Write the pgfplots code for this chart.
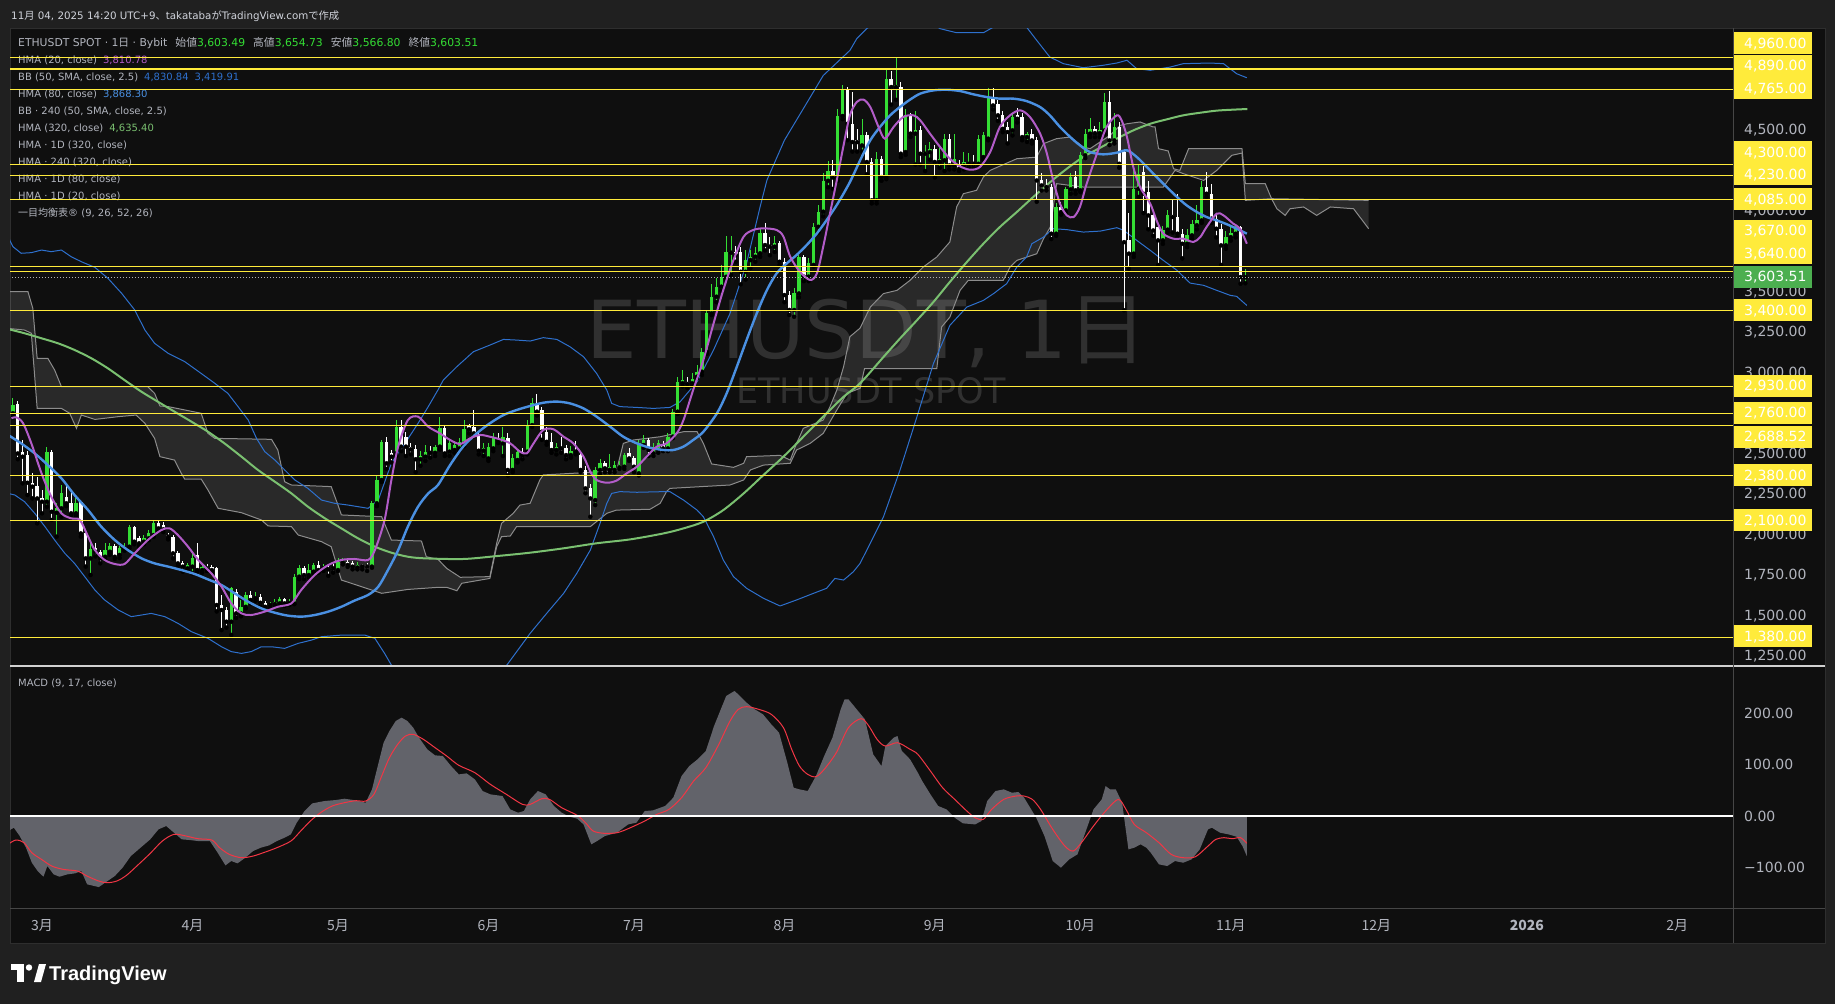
\documentclass[border=0pt]{standalone}
\usepackage{pgfplots}
\pgfplotsset{compat=1.18}
\usepackage{pgfplotstable}
\usepackage{fontspec}
\setmainfont{DejaVu Sans}
\newfontfamily\jp{Noto Sans CJK JP}
\newfontfamily\tvfont{Liberation Sans}

\definecolor{outerbg}{RGB}{32,32,32}
\definecolor{panebg}{RGB}{15,15,15}
\definecolor{framec}{RGB}{46,46,46}
\definecolor{sepc}{RGB}{70,70,70}
\definecolor{txt}{RGB}{178,181,190}
\definecolor{txtlight}{RGB}{209,212,220}
\definecolor{upc}{RGB}{52,222,52}
\definecolor{hmaA}{RGB}{178,92,200}
\definecolor{hmaB}{RGB}{74,144,226}
\definecolor{bbc}{RGB}{46,112,205}
\definecolor{hmaC}{RGB}{122,192,112}
\definecolor{cloudln}{RGB}{140,140,140}
\definecolor{lvl}{RGB}{255,235,59}
\definecolor{lastc}{RGB}{76,175,80}
\definecolor{macdc}{RGB}{98,99,106}
\definecolor{sigc}{RGB}{242,54,69}

% daily candles: d = days since 1 March 2025
\pgfplotstableread{
d O H L C
-6 2764 2856 2740 2815
-5 2821 2840 2480 2516
-4 2527 2599 2331 2496
-3 2506 2530 2259 2335
-2 2335 2393 2238 2311
-1 2315 2372 2084 2238
0 2238 2290 2146 2218
1 2218 2558 2187 2527
2 2527 2540 2105 2156
3 2150 2208 2002 2177
4 2177 2321 2125 2269
5 2249 2321 2190 2208
6 2212 2269 2136 2146
7 2146 2238 2130 2212
8 2218 2230 2002 2022
9 2022 2030 1817 1868
10 1868 1981 1765 1923
11 1930 1960 1880 1909
12 1909 1920 1837 1868
13 1878 1960 1860 1919
14 1909 1960 1890 1944
15 1944 1955 1865 1878
16 1889 1945 1870 1930
17 1930 1960 1915 1940
18 1940 2074 1930 2064
19 2064 2070 1955 1971
20 1992 2005 1940 1961
21 1971 2010 1955 1992
22 1992 2040 1980 2022
23 2012 2105 2000 2084
24 2084 2105 2040 2053
25 2074 2090 2030 2047
26 2012 2025 1985 2002
27 2002 2015 1868 1899
28 1903 1915 1820 1837
29 1837 1850 1786 1817
30 1806 1840 1790 1827
31 1817 1909 1775 1868
32 1889 1960 1786 1796
33 1796 1830 1780 1817
34 1817 1830 1790 1806
35 1817 1825 1780 1796
36 1806 1815 1540 1580
37 1580 1640 1425 1549
38 1549 1570 1440 1477
39 1477 1690 1395 1683
40 1662 1680 1500 1528
41 1528 1610 1510 1569
42 1569 1660 1560 1642
43 1642 1665 1590 1611
44 1621 1660 1605 1631
45 1631 1645 1570 1594
46 1590 1605 1560 1569
47 1580 1600 1565 1586
48 1586 1620 1575 1600
49 1590 1630 1580 1615
50 1615 1625 1575 1590
51 1590 1615 1580 1600
52 1590 1770 1585 1755
53 1755 1825 1740 1806
54 1806 1820 1740 1765
55 1765 1830 1750 1796
56 1786 1840 1775 1827
57 1827 1850 1780 1796
58 1806 1835 1790 1817
59 1806 1830 1760 1800
60 1811 1830 1780 1806
61 1796 1870 1790 1847
62 1842 1870 1830 1853
63 1847 1865 1815 1827
64 1837 1850 1800 1817
65 1811 1845 1800 1827
66 1821 1835 1800 1817
67 1827 1840 1790 1817
68 1817 2220 1810 2208
69 2208 2380 2190 2352
70 2352 2600 2340 2588
71 2588 2620 2420 2455
72 2516 2540 2460 2496
73 2516 2720 2500 2681
74 2681 2720 2530 2558
75 2620 2650 2500 2558
76 2558 2580 2510 2541
77 2541 2570 2400 2480
78 2480 2530 2440 2500
79 2496 2570 2470 2527
80 2527 2560 2490 2520
81 2520 2570 2500 2558
82 2558 2740 2540 2671
83 2671 2690 2500 2516
84 2527 2600 2500 2578
85 2537 2590 2520 2568
86 2547 2610 2530 2588
87 2578 2720 2560 2665
88 2685 2700 2640 2665
89 2681 2784 2620 2640
90 2630 2650 2510 2533
91 2533 2580 2500 2547
92 2485 2580 2470 2558
93 2547 2640 2530 2609
94 2609 2640 2580 2599
95 2578 2680 2500 2620
96 2609 2640 2380 2414
97 2414 2510 2400 2485
98 2475 2540 2460 2527
99 2527 2550 2480 2506
100 2527 2720 2510 2691
101 2691 2860 2680 2825
102 2821 2880 2750 2774
103 2784 2800 2600 2650
104 2650 2680 2570 2588
105 2588 2640 2520 2537
106 2537 2580 2510 2558
107 2558 2620 2520 2547
108 2547 2570 2480 2506
109 2506 2560 2490 2533
110 2537 2590 2510 2527
111 2506 2530 2400 2414
112 2414 2440 2270 2300
113 2300 2330 2125 2238
114 2228 2430 2197 2414
115 2414 2480 2390 2455
116 2455 2470 2400 2424
117 2414 2510 2400 2434
118 2414 2470 2400 2444
119 2430 2470 2420 2444
120 2434 2520 2420 2506
121 2516 2550 2470 2485
122 2485 2500 2400 2434
123 2393 2600 2380 2578
124 2568 2630 2550 2599
125 2599 2610 2500 2537
126 2516 2580 2500 2558
127 2537 2600 2520 2578
128 2568 2590 2530 2547
129 2547 2640 2530 2620
130 2620 2790 2610 2774
131 2774 2990 2760 2959
132 2949 3030 2930 2969
133 2959 2990 2920 2945
134 2949 3010 2930 2973
135 2990 3060 2980 3021
136 3021 3170 3000 3144
137 3144 3400 3130 3381
138 3381 3560 3370 3484
139 3484 3600 3450 3546
140 3546 3680 3520 3607
141 3607 3860 3590 3762
142 3756 3860 3620 3768
143 3762 3800 3700 3741
144 3762 3790 3560 3638
145 3638 3770 3590 3710
146 3710 3770 3660 3731
147 3731 3790 3700 3752
148 3752 3900 3730 3875
149 3875 3940 3770 3803
150 3803 3850 3740 3793
151 3793 3860 3760 3813
152 3813 3830 3680 3700
153 3700 3720 3450 3494
154 3494 3520 3371 3402
155 3402 3540 3360 3504
156 3504 3740 3480 3731
157 3731 3740 3580 3608
158 3608 3720 3580 3690
159 3680 3940 3670 3916
160 3916 4050 3880 4009
161 4009 4250 3980 4200
162 4200 4320 4160 4260
163 4260 4330 4150 4220
164 4220 4640 4200 4600
165 4600 4790 4580 4760
166 4760 4780 4450 4552
167 4552 4750 4380 4439
168 4449 4520 4380 4439
169 4418 4580 4380 4480
170 4480 4500 4240 4316
171 4316 4340 4060 4079
172 4079 4380 4060 4336
173 4336 4350 4200 4223
174 4223 4890 4210 4830
175 4830 4880 4670 4779
176 4779 4964 4700 4789
177 4779 4810 4346 4367
178 4377 4640 4360 4604
179 4604 4620 4470 4491
180 4491 4630 4300 4511
181 4511 4540 4300 4367
182 4367 4420 4260 4377
183 4377 4440 4330 4398
184 4398 4420 4220 4316
185 4316 4400 4280 4336
186 4326 4490 4260 4460
187 4460 4490 4270 4295
188 4295 4490 4270 4336
189 4305 4330 4260 4274
190 4295 4380 4270 4316
191 4305 4370 4280 4316
192 4316 4360 4280 4305
193 4305 4480 4290 4460
194 4346 4500 4330 4480
195 4460 4770 4450 4717
196 4717 4770 4640 4665
197 4675 4700 4570 4604
198 4604 4630 4500 4521
199 4532 4560 4430 4501
200 4511 4620 4480 4593
201 4604 4650 4560 4583
202 4593 4620 4450 4470
203 4470 4500 4440 4486
204 4486 4520 4430 4449
205 4449 4470 4070 4202
206 4202 4250 4140 4171
207 4171 4210 4140 4161
208 4161 4180 3840 3873
209 3873 4060 3860 4038
210 4038 4070 3990 4007
211 4017 4160 4000 4147
212 4147 4250 4120 4223
213 4223 4260 4120 4141
214 4141 4380 4130 4357
215 4357 4520 4340 4491
216 4491 4590 4470 4521
217 4521 4540 4470 4494
218 4494 4560 4470 4511
219 4511 4740 4490 4686
220 4686 4755 4420 4449
221 4449 4620 4430 4532
222 4532 4560 4280 4305
223 4377 4390 3400 3821
224 3831 4000 3657 3750
225 3750 4280 3730 4151
226 4151 4300 4100 4244
227 4254 4290 4000 4120
228 4130 4200 3900 3986
229 3986 4020 3860 3893
230 3914 3940 3680 3832
231 3832 3920 3810 3898
232 3898 4020 3880 3986
233 3986 4090 3880 3976
234 3976 4120 3850 3873
235 3873 3900 3720 3811
236 3811 3900 3790 3863
237 3863 3960 3840 3935
238 3925 4050 3900 3960
239 3955 4200 3940 4161
240 4161 4255 4100 4120
241 4120 4180 3940 3966
242 3966 3990 3850 3904
243 3904 3930 3680 3801
244 3801 3890 3780 3852
245 3852 3920 3830 3877
246 3873 3930 3850 3914
247 3914 3920 3564 3605
248 3603.49 3654.73 3566.80 3603.51
}\candles

\newcommand{\lvlbox}[3][lvl]{%
  \node[anchor=west, fill=#1, minimum width=78pt, minimum height=22pt, inner sep=0pt] at (1734pt,-#2pt) {};
  \node[anchor=base west, inner sep=0pt, font=\fontsize{14}{16}\selectfont, yshift=-5pt,
        text={\ifx#1lvl black\else white\fi}] at (1744pt,-#2pt) {#3};}

\begin{document}
\begin{tikzpicture}
% canvas and panes
\fill[outerbg] (0pt,0pt) rectangle (1835pt,-1004pt);
\fill[panebg] (10pt,-28pt) rectangle (1825pt,-943pt);
\draw[framec, line width=1pt] (10pt,-28pt) rectangle (1825pt,-943pt);

% watermark
\node[anchor=base, inner sep=0pt, text=white, text opacity=0.14, font=\fontsize{80}{90}\selectfont]
  at (867pt,-358pt) {ETHUSDT, 1{\jp 日}};
\node[anchor=base, inner sep=0pt, text=white, text opacity=0.14, font=\fontsize{35}{40}\selectfont]
  at (871pt,-403pt) {ETHUSDT SPOT};

% header
\node[anchor=base west, inner sep=0pt, text=txtlight, font=\fontsize{10.3}{12}\selectfont]
  at (11pt,-19pt) {11{\jp 月} 04, 2025 14:20 UTC+9{\jp 、}takataba{\jp が}TradingView.com{\jp で作成}};

% legend block
\begin{scope}[every node/.style={anchor=base west, inner sep=0pt, text=txt, font=\fontsize{10}{12}\selectfont}]
\node[font=\fontsize{10.8}{12}\selectfont] at (18pt,-46pt) {ETHUSDT SPOT · 1{\jp 日} · Bybit\hspace{8pt}{\jp 始値}\textcolor{upc}{3,603.49}\hspace{8pt}{\jp 高値}\textcolor{upc}{3,654.73}\hspace{8pt}{\jp 安値}\textcolor{upc}{3,566.80}\hspace{8pt}{\jp 終値}\textcolor{upc}{3,603.51}};
\node at (18pt,-63.3pt) {HMA (20, close)\hspace{6pt}\textcolor{hmaA}{3,810.78}};
\node at (18pt,-80.3pt) {BB (50, SMA, close, 2.5)\hspace{6pt}\textcolor{bbc}{4,830.84}\hspace{6pt}\textcolor{bbc}{3,419.91}};
\node at (18pt,-97.3pt) {HMA (80, close)\hspace{6pt}\textcolor{hmaB}{3,868.30}};
\node at (18pt,-114.3pt) {BB · 240 (50, SMA, close, 2.5)};
\node at (18pt,-131.3pt) {HMA (320, close)\hspace{6pt}\textcolor{hmaC}{4,635.40}};
\node at (18pt,-148.3pt) {HMA · 1D (320, close)};
\node at (18pt,-165.3pt) {HMA · 240 (320, close)};
\node at (18pt,-182.3pt) {HMA · 1D (80, close)};
\node at (18pt,-199.3pt) {HMA · 1D (20, close)};
\node at (18pt,-216.3pt) {{\jp 一目均衡表}® (9, 26, 52, 26)};
\node at (18pt,-686pt) {MACD (9, 17, close)};
\end{scope}

% ---------------- price pane ----------------
\begin{axis}[
  at={(10pt,-28pt)}, anchor=north west, scale only axis,
  width=1723pt, height=638pt,
  xmin=-6.6, xmax=348.5, ymin=1203.1, ymax=5143.3,
  clip mode=individual,
  axis line style={draw=none}, tick style={draw=none},
  xtick=\empty, scaled y ticks=false,
  ytick={1250,1500,1750,2000,2250,2500,3000,3250,3500,4000,4500},
  yticklabels={{1,250.00},{1,500.00},{1,750.00},{2,000.00},{2,250.00},{2,500.00},{3,000.00},{3,250.00},{3,500.00},{4,000.00},{4,500.00}},
  yticklabel pos=right,
  yticklabel style={font=\fontsize{14}{16}\selectfont, text=txt, anchor=west, inner sep=0pt, xshift=11pt, yshift=2pt},
]
% Ichimoku cloud: filled band (upper span forward, lower span back), then both spans
\addplot[fill=white, fill opacity=0.11, draw=none, forget plot] coordinates {
(-7.0,3515) (-2.9,3515) (-1.9,3412) (-1.0,3103) (1.2,3103) (2.6,3031) (4.0,2928) (21.8,2928) (23.2,2887) (24.3,2809) (26.0,2805) (32.8,2764) (34.2,2640) (35.6,2609) (47.3,2603) (48.6,2537) (50.0,2341) (51.4,2321) (59.6,2311) (61.0,2197) (61.7,2136) (70.0,2125) (72.0,1981) (78.2,1975) (79.2,1878) (81.6,1862)
(83.4,1806) (86.2,1751) (92.3,1755) (93.7,1961) (94.7,2084) (97.1,2146) (98.5,2197) (100.6,2208) (102.6,2352) (103.3,2383) (111.6,2397) (118.4,2409) (119.8,2578) (121.9,2599) (127.4,2619) (132.2,2650) (135.0,2650) (136.3,2578) (138.0,2451) (142.5,2430) (144.6,2455) (145.2,2496) (152.1,2504) (154.2,2475) (155.5,2578) (156.9,2671) (161.0,2722) (162.4,2805) (163.8,2907) (165.2,3052) (166.5,3237) (168.6,3290)
(170.7,3420) (173.4,3503) (176.2,3523) (178.9,3585) (181.6,3667) (184.4,3729) (187.1,3822) (188.5,4038) (189.9,4120) (192.6,4141) (194.0,4223) (195.4,4264) (200.9,4336) (205.0,4346) (206.4,4429) (209.1,4460) (211.9,4470) (214.6,4408) (216.0,4398) (220.1,4480) (222.2,4542) (223.6,4552) (226.3,4563) (229.0,4532) (229.4,4532) (230.1,4398) (232.1,4384) (233.2,4274) (234.5,4264) (236.3,4398) (247.3,4398) (248.0,4182) (252.1,4182) (253.4,4089) (273.4,4079)
(273.4,3904) (270.3,4027) (265.5,4038) (262.7,3986) (260.0,4038) (257.2,4027) (256.2,3986) (254.5,4027) (253.4,4089) (248.0,4079) (247.3,4371) (245.2,4357) (242.1,4264) (239.4,4202) (235.2,4244) (233.5,4264) (231.1,4161) (214.6,4161) (209.1,4182) (207.8,3914) (206.4,3842) (205.0,3749) (200.9,3708) (199.5,3667) (198.1,3585) (190.9,3585) (189.2,3523) (187.1,3358) (185.4,3297) (184.4,3039) (169.5,3039)
(168.6,2918) (165.9,2887) (163.8,2784) (161.0,2640) (158.3,2578) (155.5,2537) (154.2,2455) (148.7,2444) (146.0,2414) (144.6,2352) (141.8,2321) (129.4,2300) (128.7,2280) (127.4,2208) (125.3,2171) (118.4,2166) (116.4,2146) (113.0,2064) (97.8,2064) (96.5,2006) (94.7,2002) (93.7,1940) (92.3,1744) (86.5,1714) (85.5,1668) (83.4,1689)
(81.6,1689) (75.4,1676) (70.0,1652) (61.7,1734) (59.6,1940) (57.6,1971) (52.8,2012) (51.4,2064) (46.6,2068) (45.2,2105) (41.1,2150) (36.3,2177) (34.2,2290) (32.8,2358) (29.4,2358) (28.7,2393) (27.3,2475) (24.3,2496) (23.2,2609) (21.2,2702) (19.4,2753) (15.7,2743) (10.9,2726) (8.1,2753) (7.1,2671) (5.7,2764) (4.0,2794) (-1.0,2794) (-2.2,3258) (-3.6,3278) (-7.0,3288)
} -- cycle;
\addplot[cloudln, line width=1pt] coordinates {
(-7.0,3515) (-2.9,3515) (-1.9,3412) (-1.0,3103) (1.2,3103) (2.6,3031) (4.0,2928) (21.8,2928) (23.2,2887) (24.3,2809) (26.0,2805) (32.8,2764) (34.2,2640) (35.6,2609) (47.3,2603) (48.6,2537) (50.0,2341) (51.4,2321) (59.6,2311) (61.0,2197) (61.7,2136) (70.0,2125) (72.0,1981) (78.2,1975) (79.2,1878) (81.6,1862)
(83.4,1806) (86.2,1751) (92.3,1755) (93.7,1961) (94.7,2084) (97.1,2146) (98.5,2197) (100.6,2208) (102.6,2352) (103.3,2383) (111.6,2397) (118.4,2409) (119.8,2578) (121.9,2599) (127.4,2619) (132.2,2650) (135.0,2650) (136.3,2578) (138.0,2451) (142.5,2430) (144.6,2455) (145.2,2496) (152.1,2504) (154.2,2475) (155.5,2578) (156.9,2671) (161.0,2722) (162.4,2805) (163.8,2907) (165.2,3052) (166.5,3237) (168.6,3290)
(170.7,3420) (173.4,3503) (176.2,3523) (178.9,3585) (181.6,3667) (184.4,3729) (187.1,3822) (188.5,4038) (189.9,4120) (192.6,4141) (194.0,4223) (195.4,4264) (200.9,4336) (205.0,4346) (206.4,4429) (209.1,4460) (211.9,4470) (214.6,4408) (216.0,4398) (220.1,4480) (222.2,4542) (223.6,4552) (226.3,4563) (229.0,4532) (229.4,4532) (230.1,4398) (232.1,4384) (233.2,4274) (234.5,4264) (236.3,4398) (247.3,4398) (248.0,4182) (252.1,4182) (253.4,4089) (273.4,4079)
};
\addplot[cloudln, line width=1pt] coordinates {
(-7.0,3288) (-3.6,3278) (-2.2,3258) (-1.0,2794) (4.0,2794) (5.7,2764) (7.1,2671) (8.1,2753) (10.9,2726) (15.7,2743) (19.4,2753) (21.2,2702) (23.2,2609) (24.3,2496) (27.3,2475) (28.7,2393) (29.4,2358) (32.8,2358) (34.2,2290) (36.3,2177) (41.1,2150) (45.2,2105) (46.6,2068) (51.4,2064) (52.8,2012) (57.6,1971) (59.6,1940) (61.7,1734) (70.0,1652) (75.4,1676) (81.6,1689)
(83.4,1689) (85.5,1668) (86.5,1714) (92.3,1744) (93.7,1940) (94.7,2002) (96.5,2006) (97.8,2064) (113.0,2064) (116.4,2146) (118.4,2166) (125.3,2171) (127.4,2208) (128.7,2280) (129.4,2300) (141.8,2321) (144.6,2352) (146.0,2414) (148.7,2444) (154.2,2455) (155.5,2537) (158.3,2578) (161.0,2640) (163.8,2784) (165.9,2887) (168.6,2918)
(169.5,3039) (184.4,3039) (185.4,3297) (187.1,3358) (189.2,3523) (190.9,3585) (198.1,3585) (199.5,3667) (200.9,3708) (205.0,3749) (206.4,3842) (207.8,3914) (209.1,4182) (214.6,4161) (231.1,4161) (233.5,4264) (235.2,4244) (239.4,4202) (242.1,4264) (245.2,4357) (247.3,4371) (248.0,4079) (253.4,4089) (254.5,4027) (256.2,3986) (257.2,4027) (260.0,4038) (262.7,3986) (265.5,4038) (270.3,4027) (273.4,3904)
};

% Bollinger bands (50, 2.5)
\addplot[bbc, line width=1pt] coordinates {
(-7.0,3855) (-6.0,3793) (-4.3,3752) (-2.2,3756) (-0.1,3772) (1.9,3762) (4.0,3772) (6.0,3731) (8.1,3700) (10.9,3665) (13.6,3597) (16.4,3505) (19.1,3402) (21.2,3278) (23.2,3196) (26.0,3134) (29.4,3083) (32.8,3010) (35.6,2949) (38.3,2887) (40.4,2805) (42.5,2722) (44.2,2609) (45.9,2527) (48.0,2475) (50.0,2414) (52.1,2352) (54.8,2300) (57.6,2228) (60.3,2208) (63.1,2197) (67.2,2177) (69.3,2228) (72.0,2455) (74.8,2578) (77.5,2702) (79.6,2805) (81.6,2908) (82.7,2969) (85.5,3052) (88.9,3144) (92.3,3185) (95.1,3220) (97.8,3216) (100.6,3210) (103.3,3231) (106.1,3220) (108.8,3175) (111.6,3113) (114.3,3010) (116.4,2907) (117.4,2825) (119.1,2805) (122.6,2800) (126.0,2794) (129.4,2800) (131.5,2835) (135.0,2959) (138.4,3155) (141.8,3381) (145.2,3690) (148.0,4040) (149.4,4204) (153,4450) (157,4650) (161,4850) (166.5,5005) (167.9,5077) (170.0,5140) (173,5200) (178,5230) (182,5200) (185.1,5139) (188.5,5114) (194.0,5114) (196.1,5149) (199,5190) (202.9,5149) (205.0,5067) (207.7,4964) (210.5,4923) (214.6,4898) (218.7,4913) (221.5,4927) (223.6,4944) (225.6,4892) (228.4,4882) (232.5,4902) (235.2,4923) (240.7,4927) (243.5,4923) (246.2,4861) (248.3,4836)
};
\addplot[bbc, line width=1pt] coordinates {
(-7.0,2269) (-5.6,2259) (-3.6,2218) (-1.5,2146) (0.6,2064) (2.6,1981) (4.7,1899) (6.7,1837) (8.8,1755) (10.9,1672) (12.9,1611) (15.7,1549) (18.4,1508) (20.5,1518) (22.5,1528) (25.3,1508) (28.0,1467) (30.8,1415) (34.2,1374) (37.0,1322) (39.0,1292) (41.1,1281) (43.1,1292) (45.2,1322) (47.3,1322) (50.0,1312) (52.8,1343) (55.5,1363) (57.6,1384) (61.7,1394) (66.5,1394) (68.6,1374) (70.6,1281) (72.0,1209) (74,1150) (78,1080) (86,1000) (92,1080) (95.8,1209) (100.6,1405) (104.0,1528) (107.5,1652) (110.2,1775) (113.0,1919) (115.0,2084) (116.4,2208) (117.4,2269) (119.1,2280) (122.6,2276) (128.1,2280) (129.4,2280) (132.2,2228) (135.0,2166) (136.3,2125) (138.4,2002) (140.4,1858) (142.5,1755) (145.2,1683) (148.7,1621) (152.1,1574) (155.5,1611) (159.0,1652) (161.7,1683) (163.4,1744) (165.2,1734) (167.2,1785) (168.6,1837) (171,1980) (173.4,2123) (176.8,2411) (180.3,2741) (183.7,3070) (187.1,3307) (190.6,3420) (194.0,3461) (196.1,3503) (198.8,3564) (200.9,3667) (202.9,3729) (204.0,3811) (206.4,3852) (208.4,3904) (211.2,3898) (214.6,3883) (218.1,3889) (221.5,3910) (222.9,3894) (225.6,3832) (228.4,3770) (231.1,3708) (233.9,3647) (236.6,3568) (239.4,3554) (242.1,3523) (244.9,3492) (246.2,3486) (248.3,3430)
};

% HMA 320
\addplot[hmaC, line width=2pt, smooth] coordinates {
(-7.0,3284) (-3.6,3258) (-0.1,3227) (3.3,3196) (6.7,3155) (10.2,3103) (13.6,3041) (17.0,2969) (20.5,2897) (23.9,2835) (27.3,2774) (30.8,2712) (34.2,2650) (37.6,2578) (41.1,2496) (44.5,2414) (48.0,2341) (51.4,2269) (54.8,2187) (58.3,2115) (61.7,2053) (65.1,1992) (68.6,1940) (72.0,1903) (75.4,1878) (78.9,1868) (86.8,1864) (93.7,1882) (100.6,1903) (107.5,1930) (114.3,1961) (121.2,1985) (128.1,2022) (132.2,2053) (136.3,2094) (140.4,2166) (144.6,2269) (148.7,2383) (152.8,2496) (156.9,2619) (161.0,2743) (165.2,2866) (168.6,2949) (173.4,3111) (176.8,3225) (180.3,3338) (183.7,3451) (187.1,3575) (190.6,3698) (194.0,3811) (197.4,3914) (200.9,4007) (204.3,4100) (207.8,4192) (211.2,4274) (214.6,4347) (218.1,4404) (221.5,4460) (224.9,4511) (228.4,4552) (231.8,4579) (235.2,4604) (238.7,4620) (242.1,4633) (245.5,4639) (248.4,4643)
};

% candles: wicks then bodies
\addplot[only marks, mark=none, forget plot, restrict expr to domain={\thisrow{C}-\thisrow{O}}{0:100000},
  error bars/.cd, y dir=plus, y explicit, error mark=none, error bar style={line width=1pt, draw=upc}]
  table[x=d, y=L, y error plus expr={\thisrow{H}-\thisrow{L}}] {\candles};
\addplot[only marks, mark=none, forget plot, restrict expr to domain={\thisrow{C}-\thisrow{O}}{-100000:-0.001},
  error bars/.cd, y dir=plus, y explicit, error mark=none, error bar style={line width=1pt, draw=white}]
  table[x=d, y=L, y error plus expr={\thisrow{H}-\thisrow{L}}] {\candles};
\addplot[only marks, mark=none, forget plot, restrict expr to domain={\thisrow{C}-\thisrow{O}}{0:100000},
  error bars/.cd, y dir=plus, y explicit, error mark=none, error bar style={line width=3.4pt, draw=upc}]
  table[x=d, y=O, y error plus expr={\thisrow{C}-\thisrow{O}}] {\candles};
\addplot[only marks, mark=none, forget plot, restrict expr to domain={\thisrow{C}-\thisrow{O}}{-100000:-0.001},
  error bars/.cd, y dir=plus, y explicit, error mark=none, error bar style={line width=3.4pt, draw=white}]
  table[x=d, y=C, y error plus expr={\thisrow{O}-\thisrow{C}}] {\candles};

% HMA 80
\addplot[hmaB, line width=2.4pt, smooth] coordinates {
(-7.0,2630) (-4.3,2578) (-1.5,2516) (1.2,2444) (4.0,2362) (6.7,2259) (9.5,2166) (12.2,2064) (15.0,1981) (17.7,1919) (20.5,1868) (23.2,1837) (26.0,1817) (28.7,1796) (31.5,1771) (34.2,1738) (37.0,1703) (39.7,1652) (42.5,1600) (45.2,1559) (48.0,1532) (50.7,1514) (53.5,1508) (56.2,1518) (59.0,1539) (61.7,1569) (64.4,1607) (67.2,1642) (69.3,1693) (71.3,1796) (73.4,1919) (75.4,2064) (77.5,2187) (79.6,2269) (81.6,2321) (84.1,2444) (86.8,2558) (89.6,2640) (92.3,2702) (95.1,2753) (97.8,2784) (100.6,2809) (103.3,2829) (106.1,2836) (108.8,2825) (111.6,2794) (114.3,2743) (117.1,2681) (119.8,2619) (122.6,2578) (125.3,2551) (128.1,2537) (130.1,2537) (132.2,2558) (134.2,2599) (136.3,2650) (139.1,2764) (141.1,2887) (143.2,3052) (145.2,3216) (147.3,3381) (149.4,3525) (151.4,3628) (153.5,3690) (155.5,3741) (157.6,3803) (159.7,3875) (161.7,3957) (164,4060) (166.5,4192) (168.6,4326) (170.7,4450) (172.7,4532) (174.8,4604) (176.8,4655) (178.9,4701) (181.0,4738) (183.7,4758) (186.5,4762) (189.2,4754) (191.9,4734) (194.7,4717) (197.4,4707) (200.2,4707) (202.9,4692) (205.7,4655) (207.7,4604) (209.8,4532) (211.9,4470) (213.9,4419) (216.0,4377) (218.7,4363) (221.5,4373) (223.6,4388) (225.6,4347) (227.7,4285) (229.7,4223) (231.8,4161) (233.9,4100) (235.9,4048) (238.0,4007) (240.0,3976) (242.1,3955) (244.2,3931) (246.2,3904) (248.3,3873)
};

% HMA 20
\addplot[hmaA, line width=2pt, smooth] coordinates {
(-6.3,2733) (-5.3,2739) (-3.9,2702) (-2.2,2578) (-0.1,2393) (1.9,2249) (4.0,2146) (6.0,2115) (7.8,2105) (9.5,2002) (10.9,1919) (12.9,1858) (15.0,1833) (17.0,1833) (19.1,1899) (21.8,1981) (24.6,2043) (26.3,2053) (28.0,2012) (30.1,1940) (32.2,1858) (34.9,1775) (37.0,1693) (39.0,1590) (41.1,1528) (43.1,1518) (45.9,1539) (48.6,1569) (51.4,1590) (53.4,1672) (56.2,1765) (59.0,1827) (61.7,1858) (64.4,1864) (67.2,1858) (68.6,1919) (70.6,2105) (72.0,2352) (73.4,2558) (75.4,2722) (77.5,2743) (79.6,2681) (82.0,2640) (84.1,2599) (86.2,2574) (88.2,2609) (90.3,2630) (92.3,2619) (94.4,2603) (96.5,2578) (98.5,2527) (99.9,2516) (101.3,2578) (103.3,2661) (105.4,2665) (107.5,2619) (109.5,2578) (111.6,2496) (113.0,2403) (114.3,2352) (116.4,2335) (118.4,2348) (120.5,2393) (122.6,2434) (124.6,2496) (126.7,2558) (128.7,2578) (130.8,2640) (132.2,2722) (134.2,2908) (136.3,3093) (138.4,3319) (140.4,3525) (142.5,3710) (144.6,3855) (146.6,3896) (148.7,3906) (151.4,3896) (152.8,3855) (154.2,3731) (156.2,3638) (158.3,3587) (159.7,3628) (161.0,3793) (162.4,3999) (163.8,4204) (165.2,4420) (166.5,4604) (167.9,4686) (169.3,4701) (170.7,4655) (172.4,4532) (173.7,4460) (175.5,4532) (177.5,4594) (179.6,4604) (181.0,4573) (183.0,4491) (185.1,4408) (187.1,4336) (189.2,4289) (191.3,4268) (193.3,4285) (195.4,4377) (197.4,4532) (199.5,4604) (201.6,4635) (203.6,4594) (205.7,4491) (207.1,4367) (208.4,4202) (209.8,4058) (211.2,3986) (212.6,3976) (213.9,4038) (215.3,4182) (217.4,4367) (219.4,4532) (221.5,4604) (222.5,4573) (223.6,4470) (224.9,4285) (226.3,4161) (228.4,4058) (229.7,3955) (231.1,3873) (233.2,3842) (235.2,3842) (237.3,3822) (238.7,3852) (240.0,3914) (242.1,3997) (243.5,3986) (245.5,3935) (246.9,3904) (248.3,3811)
};

% horizontal levels
\pgfplotsinvokeforeach{4960,4890,4765,4300,4230,4085,3670,3640,3400,2930,2760,2688.52,2380,2100,1380}{
  \addplot[lvl, line width=1.1pt, forget plot] coordinates {(-8,#1) (350,#1)};
}
\addplot[white!70!black, line width=1pt, dotted, forget plot] coordinates {(-8,3603.51) (350,3603.51)};
\end{axis}

% ---------------- MACD pane ----------------
\begin{axis}[
  at={(10pt,-666pt)}, anchor=north west, scale only axis,
  width=1723pt, height=242pt,
  xmin=-6.6, xmax=348.5, ymin=-179.2, ymax=292.2,
  clip mode=individual,
  axis line style={draw=none}, tick style={draw=none}, scaled y ticks=false,
  ytick={-100,0,100,200},
  yticklabels={{−100.00},{0.00},{100.00},{200.00}},
  yticklabel pos=right,
  yticklabel style={font=\fontsize{14}{16}\selectfont, text=txt, anchor=west, inner sep=0pt, xshift=11pt},
  xtick={0,31,61,92,122,153,184,214,245,275,306,337},
  xticklabels={3月,4月,5月,6月,7月,8月,9月,10月,11月,12月,\textbf{2026},2月},
  xticklabel style={font=\jp\fontsize{14}{16}\selectfont, text=txt, anchor=center, inner sep=0pt, yshift=-17.5pt},
]
\addplot[fill=macdc, draw=none] coordinates {
(-7.0,-29.3) (-5.8,-22.8) (-4.6,-39.0) (-3.3,-61.7) (-2.1,-90.9) (-0.9,-107.2) (0.3,-118.2) (1.1,-97.4) (2.4,-113.7) (3.6,-118.2) (5.2,-113.7) (6.8,-111.7) (8.1,-107.2) (9.3,-133.1) (11.7,-138.4) (13.0,-129.9) (15.0,-116.9) (16.6,-100.7) (18.3,-78.0) (19.9,-65.0) (22.3,-45.5) (24.0,-26.0) (25.6,-19.5) (27.2,-32.5) (28.8,-45.5) (30.5,-46.8) (32.1,-48.7) (34.6,-48.7) (36.2,-71.5) (37.8,-96.1) (39.0,-87.7) (40.3,-92.2) (41.9,-81.2) (43.5,-68.2) (45.1,-61.7) (46.8,-57.2) (48.4,-48.7) (50.0,-42.2) (51.3,-35.7) (52.5,-13.0) (54.1,9.7) (55.7,24.6) (58.2,29.2) (60.6,31.2) (62.3,33.7) (64.7,30.5) (66.7,25.9) (68.0,51.9) (69.2,97.4) (70.4,142.8) (71.6,165.6) (72.9,185.1) (74.1,191.6) (75.3,185.1) (76.5,172.1) (77.7,152.6) (79.4,129.9) (81.0,118.2) (82.6,116.9) (84.3,97.4) (85.9,81.1) (87.5,83.1) (89.2,71.4) (90.8,48.7) (92.4,42.2) (94.9,38.9) (96.5,12.9) (98.1,6.5) (99.3,9.7) (100.6,32.4) (102.2,48.7) (103.8,42.2) (105.5,19.5) (107.1,6.5) (108.7,-1.3) (110.3,-5.2) (111.6,-16.3) (113.2,-55.2) (114.4,-48.7) (116.0,-39.0) (118.5,-32.5) (120.8,-16.3)
(122.5,-13.0) (124.2,9.7) (125.9,11.0) (128.4,19.5) (130.1,35.7) (131.8,77.9) (133.4,97.4) (135.1,110.4) (136.8,126.6) (138.5,175.3) (141.0,233.8) (142.7,243.5) (143.5,237.0) (145.2,220.8) (146.9,207.8) (148.6,198.0) (150.3,178.6) (151.9,162.3) (153.6,103.9) (154.9,55.2) (156.1,51.9) (157.8,48.7) (159.5,77.9) (161.2,116.9) (162.9,152.6) (164.6,207.8) (165.4,227.3) (166.2,227.3) (167.9,207.8) (169.6,188.3) (171.3,120.1) (173.0,97.4) (173.8,136.3) (175.5,152.6) (176.3,155.8) (177.2,126.6) (178.9,110.4) (180.5,84.4) (181.4,68.2) (183.1,42.2) (184.7,19.5) (186.4,12.9) (188.1,-3.3) (189.8,-14.3) (192.3,-16.3) (193.6,-9.8) (194.8,29.2) (196.5,48.7) (198.2,51.9) (199.9,45.4) (201.2,46.7) (202.4,35.7) (204.9,-3.3) (206.6,-39.0) (208.3,-87.7) (210.0,-100.7) (211.7,-84.5) (213.4,-74.7) (215.0,-32.5) (216.7,12.9) (218.4,32.4) (219.2,58.4) (220.1,51.9) (221.3,51.9) (222.6,25.9) (223.9,-65.0) (225.1,-61.7) (226.4,-55.2) (227.6,-61.7) (228.5,-71.5) (230.2,-94.2) (231.9,-97.4) (233.5,-87.7) (235.2,-91.0) (236.9,-84.5) (238.6,-65.0) (240.3,-26.0) (241.1,-22.8) (242.8,-32.5) (244.5,-35.7) (246.2,-40.3) (247.4,-58.5) (248.3,-78.0)
} \closedcycle;
\addplot[sigc, line width=1pt, smooth] coordinates {
(-7.0,-55.2) (-5.4,-46.8) (-3.7,-52.0) (-2.1,-71.5) (-0.1,-84.5) (2.0,-97.4) (4.4,-104.0) (7.3,-107.2) (9.3,-117.0) (11.7,-126.7) (13.4,-129.9) (15.4,-126.7) (17.4,-115.6) (19.9,-94.2) (22.3,-72.8) (24.8,-48.7) (27.2,-35.7) (29.7,-39.0) (32.1,-44.2) (35.0,-46.8) (36.6,-61.7) (38.6,-74.7) (41.1,-81.2) (43.5,-78.0) (46.0,-70.2) (48.4,-61.7) (51.3,-48.7) (53.3,-29.3) (55.3,-9.8) (57.4,6.5) (59.8,19.5) (62.3,25.9) (64.7,29.8) (66.7,29.2) (68.4,42.2) (70.0,77.9) (71.6,113.6) (73.3,139.6) (74.9,155.8) (76.5,159.1) (78.6,149.3) (81.0,133.1) (83.4,116.9) (85.9,98.7) (89.2,84.4) (92.4,61.7) (95.7,42.2) (99.0,22.7) (100.6,22.7) (103.0,33.7) (104.6,32.4) (107.1,16.2) (110.3,1.3) (112.0,-13.0) (113.6,-29.3) (116.0,-33.8) (118.5,-32.5) (120.8,-24.7)
(124.2,-9.8) (126.7,3.2) (129.2,12.9) (131.8,35.7) (134.3,68.2) (136.8,94.1) (139.3,136.3) (141.8,185.1) (143.5,207.8) (145.2,213.0) (147.7,207.8) (150.3,198.0) (152.8,172.1) (154.5,129.9) (156.1,97.4) (157.8,81.1) (159.5,76.6) (161.2,90.9) (163.7,123.4) (166.2,172.1) (168.8,189.6) (170.4,175.3) (172.1,149.3) (173.8,136.3) (176.3,142.8) (178.9,129.9) (180.5,120.1) (183.1,87.6) (185.6,55.2) (188.1,32.4) (190.6,9.7) (192.3,-3.3) (194.0,-6.5) (195.7,12.9) (198.2,32.4) (200.7,38.9) (202.4,38.9) (204.1,32.4) (205.8,12.9) (208.3,-26.0) (210.8,-58.5) (212.5,-68.2) (214.2,-52.0) (216.7,-19.5) (219.2,9.7) (221.8,32.4) (223.4,12.9) (225.1,-16.3) (227.6,-32.5) (230.2,-52.0) (232.7,-74.7) (235.2,-81.2) (237.7,-79.3) (240.3,-58.5) (241.9,-45.5) (243.6,-42.2) (245.3,-44.2) (247.0,-42.2) (248.3,-53.3)
};
\addplot[white, line width=1.5pt, forget plot] coordinates {(-8,0) (350,0)};
\end{axis}

% pane separators
\draw[white!82!black, line width=1.4pt] (10pt,-666pt) -- (1825pt,-666pt);
\draw[sepc, line width=1pt] (10pt,-908pt) -- (1825pt,-908pt);
\draw[sepc, line width=1pt] (1733pt,-28pt) -- (1733pt,-943pt);

% price scale labels
\lvlbox{43.3}{4,960.00}
\lvlbox{65.7}{4,890.00}
\lvlbox{88}{4,765.00}
\lvlbox{152.3}{4,300.00}
\lvlbox{174.3}{4,230.00}
\lvlbox{199}{4,085.00}
\lvlbox{230.7}{3,670.00}
\lvlbox{253.3}{3,640.00}
\lvlbox[lastc]{276.7}{3,603.51}
\lvlbox{310}{3,400.00}
\lvlbox{385.7}{2,930.00}
\lvlbox{412.7}{2,760.00}
\lvlbox{436.7}{2,688.52}
\lvlbox{475}{2,380.00}
\lvlbox{520}{2,100.00}
\lvlbox{636}{1,380.00}

% TradingView mark
\fill[white] (11pt,-964pt) rectangle (24pt,-970pt);
\fill[white] (17pt,-970pt) rectangle (24pt,-982pt);
\fill[white] (29pt,-967.5pt) circle (3.2pt);
\fill[white] (34pt,-982pt) -- (39pt,-964pt) -- (46pt,-964pt) -- (41pt,-982pt) -- cycle;
\node[anchor=base west, inner sep=0pt, text=white, font=\tvfont\bfseries\fontsize{20}{22}\selectfont] at (49pt,-980pt) {TradingView};
\end{tikzpicture}
\end{document}
